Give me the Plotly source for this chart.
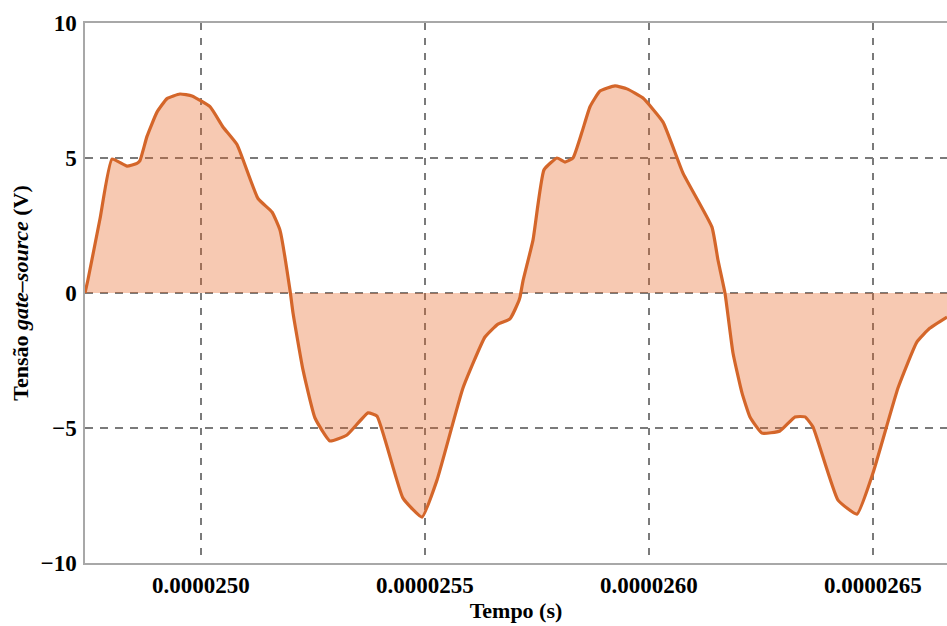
import plotly.graph_objects as go

# Gate-source voltage waveform (time in seconds, voltage in volts)
time_s = [
    24.7411e-6, 24.7478e-6, 24.7746e-6, 24.8013e-6, 24.8348e-6, 24.8571e-6,
    24.8638e-6, 24.8795e-6, 24.9018e-6, 24.9241e-6, 24.9531e-6, 24.9799e-6,
    25.0201e-6, 25.0491e-6, 25.0804e-6, 25.1272e-6, 25.1585e-6, 25.1763e-6,
    25.1987e-6, 25.2054e-6, 25.2277e-6, 25.2545e-6, 25.2879e-6, 25.3259e-6,
    25.3728e-6, 25.3929e-6, 25.4509e-6, 25.4933e-6, 25.5268e-6, 25.5848e-6,
    25.6339e-6, 25.6629e-6, 25.6897e-6, 25.7076e-6, 25.7121e-6, 25.7188e-6,
    25.7411e-6, 25.7656e-6, 25.7946e-6, 25.8125e-6, 25.8304e-6, 25.8504e-6,
    25.8683e-6, 25.8906e-6, 25.9241e-6, 25.9509e-6, 25.9866e-6, 26.0313e-6,
    26.0759e-6, 26.1406e-6, 26.1540e-6, 26.1696e-6, 26.1875e-6, 26.2076e-6,
    26.2254e-6, 26.2522e-6, 26.2924e-6, 26.3259e-6, 26.3482e-6, 26.3661e-6,
    26.4219e-6, 26.4643e-6, 26.5000e-6, 26.5558e-6, 26.5982e-6, 26.6272e-6,
    26.6652e-6,
]
vgs_v = [
    0.0, 0.5, 2.75, 4.96, 4.7, 4.8,
    4.9, 5.8, 6.7, 7.2, 7.37, 7.3,
    6.9, 6.15, 5.5, 3.5, 3.0, 2.33,
    0.1, -0.74, -2.85, -4.63, -5.48, -5.26,
    -4.44, -4.56, -7.6, -8.3, -6.93, -3.52,
    -1.63, -1.15, -0.96, -0.37, -0.15, 0.45,
    1.96, 4.56, 5.0, 4.85, 5.0, 5.96,
    6.9, 7.48, 7.67, 7.56, 7.22, 6.33,
    4.44, 2.44, 1.22, 0.0, -2.22, -3.7,
    -4.59, -5.19, -5.11, -4.59, -4.59, -4.96,
    -7.67, -8.19, -6.67, -3.52, -1.81, -1.3,
    -0.89,
]

x_tick_vals = [2.50e-5, 2.55e-5, 2.60e-5, 2.65e-5]
x_tick_text = ["0.0000250", "0.0000255", "0.0000260", "0.0000265"]
y_tick_vals = [-10, -5, 0, 5, 10]
y_tick_text = ["\u221210", "\u22125", "0", "5", "10"]

line_color = "#D4662A"
fill_color = "rgba(232,96,30,0.34)"
grid_color = "#7a7a7a"
frame_color = "#a8a8a8"
font_family = "Liberation Serif, Times New Roman, serif"

fig = go.Figure()
fig.add_trace(go.Scatter(
    x=time_s, y=vgs_v, mode="lines",
    line=dict(color=line_color, width=3.2, shape="spline", smoothing=0.4),
    fill="tozeroy", fillcolor=fill_color,
    hoverinfo="skip", showlegend=False,
))

fig.update_layout(
    width=947, height=626,
    margin=dict(l=85, r=0, t=23, b=63),
    paper_bgcolor="white", plot_bgcolor="white",
    font=dict(family=font_family, color="black"),
    xaxis=dict(
        range=[24.7411e-6, 26.6652e-6],
        tickmode="array", tickvals=x_tick_vals, ticktext=x_tick_text,
        tickfont=dict(size=23, family=font_family, weight="bold"),
        showgrid=True, gridcolor=grid_color, gridwidth=1.5, griddash="7px,8px",
        zeroline=False,
        showline=True, linecolor=frame_color, linewidth=1.5, mirror=True,
        ticks="", ticklabelstandoff=1,
        title=dict(text="<b>Tempo (s)</b>", font=dict(size=22, family=font_family),
                   standoff=4),
    ),
    yaxis=dict(
        range=[-10, 10],
        tickmode="array", tickvals=y_tick_vals, ticktext=y_tick_text,
        tickfont=dict(size=23, family=font_family, weight="bold"),
        showgrid=True, gridcolor=grid_color, gridwidth=1.5, griddash="8px,7px",
        zeroline=False,
        showline=True, linecolor=frame_color, linewidth=1.5,
        ticks="", ticklabelstandoff=2,
        title=dict(text="<b>Tensão <i>gate–source</i> (V)</b>",
                   font=dict(size=22, family=font_family), standoff=6),
    ),
)

fig.write_html("out.html")
